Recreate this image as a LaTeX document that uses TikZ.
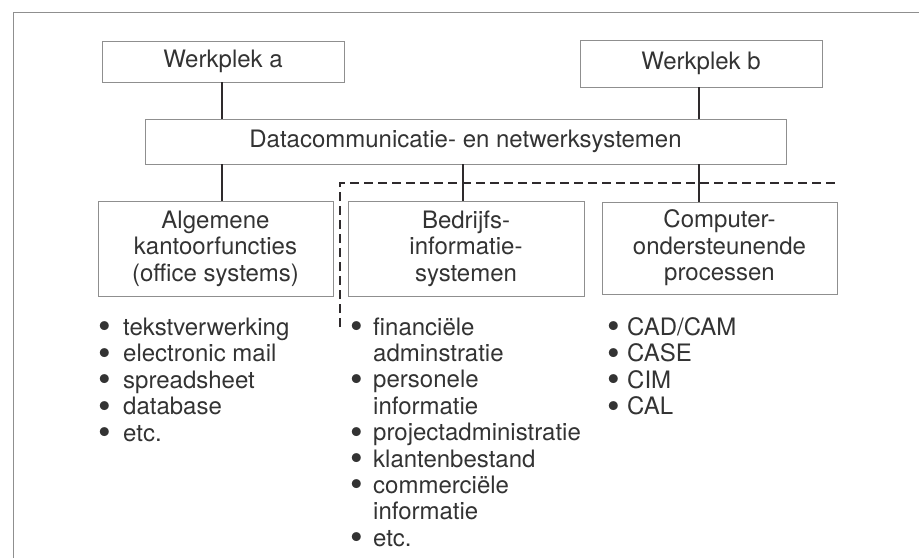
\documentclass[tikz,border=0pt]{standalone}
\usepackage{fontspec}
\setmainfont{TeX Gyre Heros}
\definecolor{txt}{HTML}{333333}
\definecolor{boxline}{HTML}{8F8F8F}
\definecolor{conn}{HTML}{2E2A2C}
\newcommand\myblt[1]{\makebox[#1][l]{\hspace*{-1pt}\smash{\raisebox{-3.5pt}{\scalebox{1.5}{\textbullet}}}}}
\newcommand\myline[2]{\hbox{\myblt{#1}#2}}
\newcommand\mycont[2]{\hbox{\hspace*{#1}#2}}
\begin{document}
\begin{tikzpicture}[x=1pt,y=-1pt,
  every node/.style={font=\fontsize{24}{26.5}\selectfont, text=txt},
  box/.style={draw=boxline, line width=0.8pt, inner sep=0pt, align=center},
  conline/.style={draw=conn, line width=1.8pt},
  dashline/.style={draw=conn, line width=2pt, dash pattern=on 9pt off 5pt},
  list/.style={inner sep=0pt, anchor=base west},
  frame/.style={draw=boxline, line width=0.8pt}]
\useasboundingbox (0,0) rectangle (919,558);
\coordinate (fbl) at (13,558);
\coordinate (ftl) at (13,12);
\coordinate (ftr) at (919,12);
\draw[frame] (fbl) -- (ftl) -- (ftr);

\node[box, minimum width=242pt, minimum height=41pt] (wa) at (223,61.5) {Werkplek a};
\node[box, minimum width=242pt, minimum height=47pt] (wb) at (701,63.5) {Werkplek b};
\node[box, minimum width=641pt, minimum height=45pt] (dc) at (465.5,141.5) {Datacommunicatie- en netwerksystemen};
\node[box, minimum width=235pt, minimum height=95pt] (alg) at (215.5,248.5) {Algemene\\kantoorfuncties\\(office systems)};
\node[box, minimum width=236pt, minimum height=95pt] (bed) at (466,248.5) {Bedrijfs-\\informatie-\\systemen};
\node[box, minimum width=235pt, minimum height=92pt] (comp) at (719.5,248) {Computer-\\ondersteunende\\processen};

\draw[conline] ([xshift=-1pt]wa.south) -- ([xshift=-1pt]wa.south |- dc.north);
\draw[conline] ([xshift=-2pt]wb.south) -- ([xshift=-2pt]wb.south |- dc.north);
\draw[conline] ([xshift=-1pt]wa.south |- dc.south) -- ([xshift=-1pt]wa.south |- alg.north);
\draw[conline] ([xshift=-3pt]bed.north |- dc.south) -- ([xshift=-3pt]bed.north);
\draw[conline] ([xshift=-2pt]wb.south |- dc.south) -- ([xshift=-2pt]wb.south |- comp.north);

\coordinate (d1) at (340,327);
\coordinate (d2) at (835,183);
\draw[dashline] (d1) |- (d2);

\node[list] (l1) at (99,335) {\vtop{\baselineskip=26.5pt
\myline{24pt}{tekstverwerking}
\myline{24pt}{electronic mail}
\myline{24pt}{spreadsheet}
\myline{24pt}{database}
\myline{24pt}{etc.}}};
\node[list] (l2) at (351,335) {\vtop{\baselineskip=26.4pt
\myline{22pt}{financiële}
\mycont{22pt}{adminstratie}
\myline{22pt}{personele}
\mycont{22pt}{informatie}
\myline{22pt}{projectadministratie}
\myline{22pt}{klantenbestand}
\myline{22pt}{commerciële}
\mycont{22pt}{informatie}
\myline{22pt}{etc.}}};
\node[list] (l3) at (608,335) {\vtop{\baselineskip=26.5pt
\myline{19pt}{CAD/CAM}
\myline{19pt}{CASE}
\myline{19pt}{CIM}
\myline{19pt}{CAL}}};
\end{tikzpicture}
\end{document}
